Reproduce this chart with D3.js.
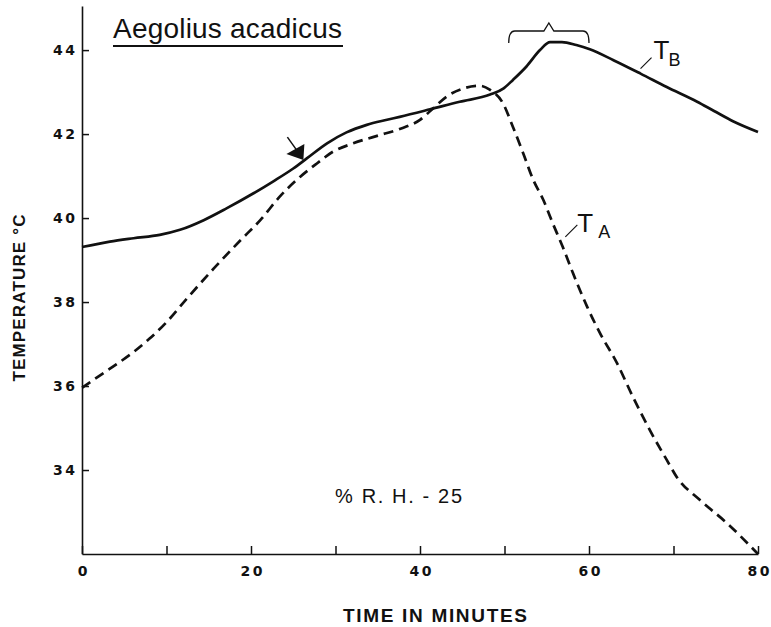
<!DOCTYPE html>
<html>
<head>
<meta charset="utf-8">
<script src="https://cdn.jsdelivr.net/npm/d3@7"></script>
<style>
  html, body { margin: 0; padding: 0; background: #fff; }
  svg { display: block; font-family: "Liberation Sans", Arial, sans-serif; }
</style>
</head>
<body>
<svg id="chart" width="771" height="627"></svg>
<script>
// ---- data ----
const timeB = [0, 3.3, 6.1, 9.2, 11.6, 14.4, 17.1, 20.3, 22.6, 25.0, 26.6, 29.0, 31.3, 33.7, 36.1, 37.6, 41.2, 44.7, 48.3, 49.9, 51.0, 52.6, 54.2, 55.4, 56.8, 58.5, 60.1, 62.9, 66.1, 69.2, 72.8, 74.8, 77.1, 80];
const tempB = [39.31, 39.44, 39.52, 39.60, 39.72, 39.95, 40.23, 40.59, 40.87, 41.18, 41.42, 41.78, 42.04, 42.22, 42.34, 42.41, 42.59, 42.77, 42.94, 43.09, 43.29, 43.61, 44.00, 44.19, 44.19, 44.12, 44.02, 43.76, 43.44, 43.12, 42.77, 42.55, 42.30, 42.05];

const timeA = [0, 2.1, 4.1, 6.1, 8.0, 10.0, 12.4, 15.6, 18.7, 21.1, 23.4, 25.8, 27.8, 29.7, 32.1, 35.3, 37.6, 40.0, 41.6, 43.2, 45.2, 47.1, 48.3, 49.8, 51.0, 52.2, 53.4, 54.6, 55.7, 56.9, 58.1, 59.8, 61.3, 63.3, 65.2, 67.2, 69.2, 70.4, 73.1, 76.3, 80];
const tempA = [35.96, 36.25, 36.52, 36.81, 37.13, 37.52, 38.08, 38.80, 39.46, 39.95, 40.51, 40.98, 41.30, 41.58, 41.78, 41.98, 42.12, 42.34, 42.62, 42.90, 43.09, 43.15, 43.05, 42.74, 42.17, 41.55, 40.91, 40.43, 39.88, 39.31, 38.69, 37.88, 37.26, 36.55, 35.74, 34.95, 34.24, 33.83, 33.29, 32.74, 32.00];

const xTicks = [0, 10, 20, 30, 40, 50, 60, 70, 80];
const xTickLabels = ["0", "", "20", "", "40", "", "60", "", "80"];
const yTicks = [34, 36, 38, 40, 42, 44];
const yTickLabels = ["34", "36", "38", "40", "42", "44"];

const titleText = "Aegolius acadicus";
const xLabel = "TIME IN MINUTES";
const yLabel = "TEMPERATURE °C";
const rhText = "% R. H. - 25";
const bracketSpan = [50.5, 60];   // minutes
const arrowTip = [26.2, 41.38];   // minutes, °C
const labelB = [66.1, 43.44];     // leader anchor on T_B
const labelA = [57.2, 39.55];     // leader anchor near T_A

// ---- drawing ----
const svg = d3.select("#chart");
const ink = "#111";

const x = d3.scaleLinear().domain([0, 80]).range([82, 758]);
const y = d3.scaleLinear().domain([32, 45.05]).range([554, 6]);

// axes
const xAxis = d3.axisBottom(x)
  .tickValues(xTicks)
  .tickFormat((d, i) => xTickLabels[i])
  .tickSizeInner(-8).tickSizeOuter(0).tickPadding(12);
const gx = svg.append("g").attr("transform", "translate(0,554)").call(xAxis);

const yAxis = d3.axisLeft(y)
  .tickValues(yTicks)
  .tickFormat((d, i) => yTickLabels[i])
  .tickSizeInner(-7).tickSizeOuter(0).tickPadding(7);
const gy = svg.append("g").attr("transform", "translate(82,0)").call(yAxis);

[gx, gy].forEach(g => {
  g.attr("font-size", 14).attr("font-family", "DejaVu Sans, Verdana, sans-serif");
  g.select(".domain").attr("stroke", ink).attr("stroke-width", 1.6);
  g.selectAll(".tick line").attr("stroke", ink).attr("stroke-width", 1.5);
  g.selectAll(".tick text")
    .attr("fill", ink)
    .attr("font-weight", "bold")
    .each(function() {
      const t = d3.select(this);
      if (t.text().length === 2) t.attr("textLength", 22).attr("lengthAdjust", "spacing");
    });
});

// lines
const lineGen = d3.line().curve(d3.curveMonotoneX);

svg.append("path")
  .attr("d", lineGen(timeA.map((t, i) => [x(t), y(tempA[i])])))
  .attr("fill", "none").attr("stroke", ink)
  .attr("stroke-width", 2.7)
  .attr("stroke-dasharray", "10,6");

svg.append("path")
  .attr("d", lineGen(timeB.map((t, i) => [x(t), y(tempB[i])])))
  .attr("fill", "none").attr("stroke", ink)
  .attr("stroke-width", 2.7)
  .attr("stroke-linejoin", "round");

// title
svg.append("text")
  .attr("x", 113).attr("y", 38)
  .attr("font-size", 28).attr("fill", ink)
  .attr("textLength", 229).attr("lengthAdjust", "spacing")
  .text(titleText);
svg.append("line")
  .attr("x1", 113).attr("x2", 343).attr("y1", 46).attr("y2", 46)
  .attr("stroke", ink).attr("stroke-width", 2);

// axis titles
svg.append("text")
  .attr("transform", "translate(25,298) rotate(-90)")
  .attr("text-anchor", "middle")
  .attr("font-size", 17).attr("font-weight", "bold").attr("fill", ink)
  .attr("textLength", 167).attr("lengthAdjust", "spacing")
  .text(yLabel);

svg.append("text")
  .attr("x", 435).attr("y", 622)
  .attr("text-anchor", "middle")
  .attr("font-size", 19).attr("font-weight", "bold").attr("fill", ink)
  .attr("textLength", 184).attr("lengthAdjust", "spacing")
  .text(xLabel);

// % R.H. note
svg.append("text")
  .attr("x", 335).attr("y", 503)
  .attr("font-size", 20).attr("fill", ink)
  .attr("textLength", 127).attr("lengthAdjust", "spacing")
  .text(rhText);

// bracket above T_B peak
{
  const x0 = x(bracketSpan[0]), x1 = x(bracketSpan[1]), xm = (x0 + x1) / 2;
  const top = 31, bot = 43, peak = 23;
  const p = d3.path();
  p.moveTo(x0, bot);
  p.quadraticCurveTo(x0, top, x0 + 6, top);
  p.lineTo(xm - 5, top);
  p.lineTo(xm, peak);
  p.lineTo(xm + 5, top);
  p.lineTo(x1 - 6, top);
  p.quadraticCurveTo(x1, top, x1, bot);
  svg.append("path").attr("d", p.toString())
    .attr("fill", "none").attr("stroke", ink).attr("stroke-width", 1.3);
}

// arrow pointing at T_B
{
  const tx = x(arrowTip[0]), ty = y(arrowTip[1]);
  svg.append("line")
    .attr("x1", tx - 16).attr("y1", ty - 23)
    .attr("x2", tx - 6).attr("y2", ty - 9)
    .attr("stroke", ink).attr("stroke-width", 1.5);
  svg.append("path")
    .attr("d", `M${tx},${ty} L${tx - 17},${ty - 6} L${tx + 1},${ty - 16} Z`)
    .attr("fill", ink);
}

// curve labels
{
  const bx = x(labelB[0]), by = y(labelB[1]);
  svg.append("line").attr("x1", bx).attr("y1", by - 5).attr("x2", bx + 11).attr("y2", by - 16)
    .attr("stroke", ink).attr("stroke-width", 1.1);
  svg.append("text").attr("x", bx + 13).attr("y", by - 15)
    .attr("font-size", 26).attr("fill", ink).text("T");
  svg.append("text").attr("x", bx + 28).attr("y", by - 8)
    .attr("font-size", 18).attr("fill", ink).text("B");

  const ax = x(labelA[0]), ay = y(labelA[1]);
  svg.append("line").attr("x1", ax).attr("y1", ay).attr("x2", ax + 12).attr("y2", ay - 12)
    .attr("stroke", ink).attr("stroke-width", 1.1);
  svg.append("text").attr("x", ax + 12).attr("y", ay - 5)
    .attr("font-size", 26).attr("fill", ink).text("T");
  svg.append("text").attr("x", ax + 33).attr("y", ay + 1)
    .attr("font-size", 18).attr("fill", ink).text("A");
}
</script>
</body>
</html>
